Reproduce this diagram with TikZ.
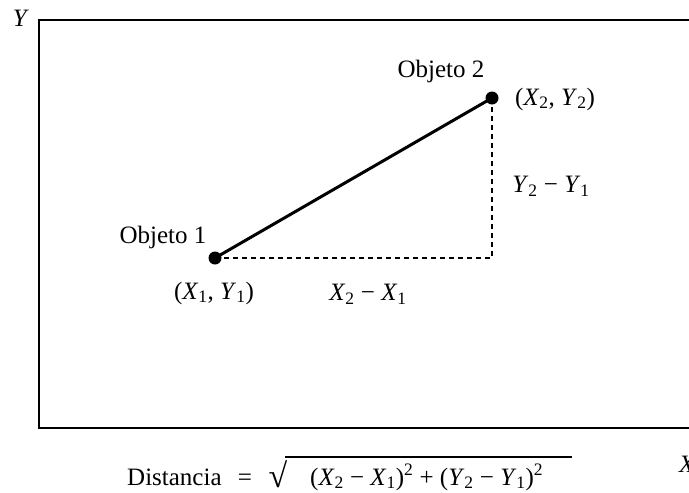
\documentclass[tikz,border=0pt]{standalone}
\usepackage{fontspec}
\setmainfont{Liberation Serif}
\newcommand{\vX}[1]{\textit{X}\textsubscript{#1}}
\newcommand{\vY}[1]{\textit{Y}\textsubscript{#1}}
\begin{document}
\begin{tikzpicture}[x=1pt,y=-1pt,
  font=\fontsize{25}{29}\selectfont,
  dotnode/.style={circle,fill=black,inner sep=0pt,minimum size=13pt},
  frameline/.style={line width=2pt},
  segline/.style={line width=3pt},
  dashline/.style={line width=1.2pt,dash pattern=on 5pt off 4pt},
  lbl/.style={inner sep=0pt}]
\useasboundingbox (0,0) rectangle (689,493);
\coordinate (tl) at (39,20);
\coordinate (bl) at (39,428);
\coordinate (tr) at (700,20);
\coordinate (br) at (700,428);
\draw[frameline] (tr) -- (tl) -- (bl) -- (br);
\node[lbl] (ylab) at (21,18) {\textit{Y}};
\node[lbl,anchor=west] (xlab) at (679,464) {\textit{X}};
\node[dotnode] (o1) at (215,258) {};
\node[dotnode] (o2) at (492,98) {};
\coordinate (c) at (492,258);
\draw[segline] (o1.center) -- (o2.center);
\draw[dashline] (o1.center) -- (c) -- (o2.center);
\node[lbl] (t1) at (163,237) {Objeto 1};
\node[lbl] (t2) at (441,71) {Objeto 2};
\node[lbl] (p1) at (214,293) {(\vX{1}, \vY{1})};
\node[lbl] (p2) at (555,99) {(\vX{2}, \vY{2})};
\node[lbl] (dx) at (368,294) {\vX{2} − \vX{1}};
\node[lbl] (dy) at (551,186) {\vY{2} − \vY{1}};
\node[lbl,anchor=base west] (dist) at (127,485) {Distancia};
\node[lbl,anchor=base] (eq) at (245,485) {=};
\node[lbl,anchor=base,font=\fontsize{34}{38}\selectfont] (rad) at (278,487) {√};
\node[lbl,anchor=base west] (expr) at (310,485) {(\vX{2} − \vX{1})\textsuperscript{2} + (\vY{2} − \vY{1})\textsuperscript{2}};
\coordinate (ovA) at (285,457);
\coordinate (ovB) at (572,457);
\draw[line width=1.4pt] (ovA) -- (ovB);
\end{tikzpicture}
\end{document}
